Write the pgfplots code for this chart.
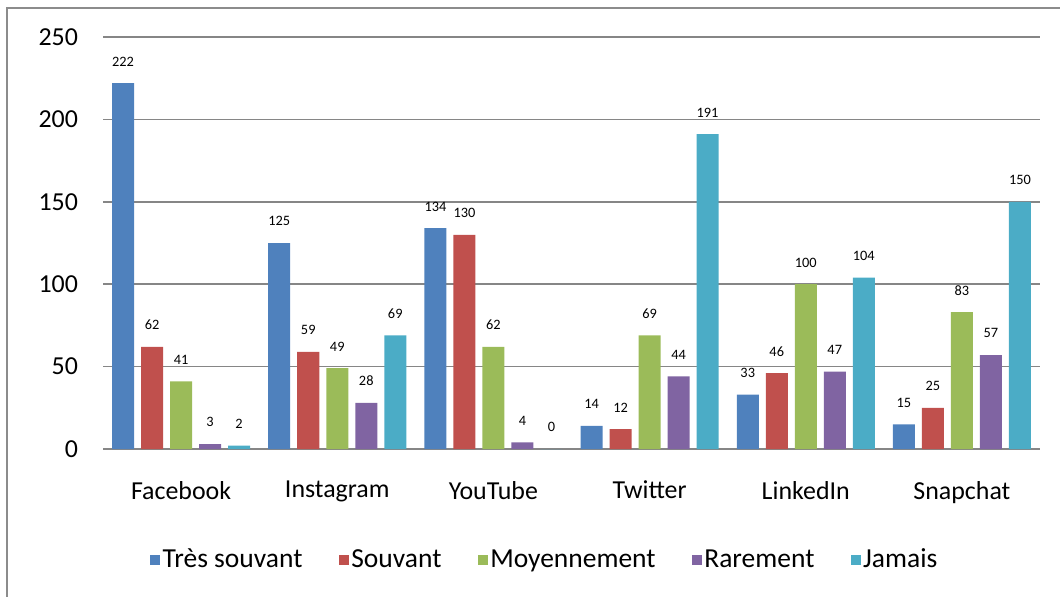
\documentclass[border=0pt]{standalone}
\usepackage{fontspec}
\setmainfont{Carlito}
\usepackage{pgfplots}
\pgfplotsset{compat=1.18}

\definecolor{cTS}{RGB}{79,129,189}
\definecolor{cS}{RGB}{192,80,77}
\definecolor{cM}{RGB}{155,187,89}
\definecolor{cR}{RGB}{128,100,162}
\definecolor{cJ}{RGB}{75,172,198}
\definecolor{gridgray}{RGB}{134,134,134}
\definecolor{framegray}{RGB}{140,140,140}

\begin{document}
\begin{tikzpicture}
\begin{axis}[
  width=468.5bp, height=206bp, scale only axis,
  ybar=3.5bp, bar width=11bp,
  xmin=-0.5, xmax=5.5, ymin=0, ymax=250,
  xtick={0,...,5},
  xticklabels={Facebook,Instagram,YouTube,Twitter,LinkedIn,Snapchat},
  ytick={0,50,...,250},
  axis line style={draw=none},
  major tick length=0pt,
  ymajorgrids,
  grid style={gridgray, line width=0.8bp},
  tick label style={font=\fontsize{13}{15}\selectfont},
  /pgf/number format/assume math mode=true,
  yticklabel style={xshift=-9bp},
  xticklabel style={yshift=-12.5bp},
  nodes near coords,
  nodes near coords style={font=\fontsize{7.2}{8}\selectfont, black, yshift=5bp},
  legend columns=5,
  legend image code/.code={\path (-17bp,0bp);\fill[#1,draw=none] (0bp,-2.5bp) rectangle (5bp,2.5bp);},
  legend style={at={(0.4536,0)}, anchor=center, yshift=-55.5bp, draw=none,
    font=\fontsize{13.8}{16}\selectfont, nodes={inner sep=1.2bp}},
]
\addplot[fill=cTS, draw=none] coordinates {(0,222) (1,125) (2,134) (3,14) (4,33) (5,15)};
\addplot[fill=cS, draw=none] coordinates {(0,62) (1,59) (2,130) (3,12) (4,46) (5,25)};
\addplot[fill=cM, draw=none] coordinates {(0,41) (1,49) (2,62) (3,69) (4,100) (5,83)};
\addplot[fill=cR, draw=none] coordinates {(0,3) (1,28) (2,4) (3,44) (4,47) (5,57)};
\addplot[fill=cJ, draw=none] coordinates {(0,2) (1,69) (2,0) (3,191) (4,104) (5,150)};
\legend{Très souvant,Souvant,Moyennement,Rarement,Jamais}
\coordinate (O) at (rel axis cs:0,0);
\end{axis}
\draw[framegray, line width=1bp]
  ([shift={(-47.75bp,-80bp)}]O) -- ([shift={(-47.75bp,220.5bp)}]O)
  -- ([shift={(485bp,220.5bp)}]O);
\pgfresetboundingbox
\path ([shift={(-51.5bp,-74bp)}]O) rectangle ([shift={(478.5bp,224.5bp)}]O);
\end{tikzpicture}
\end{document}
